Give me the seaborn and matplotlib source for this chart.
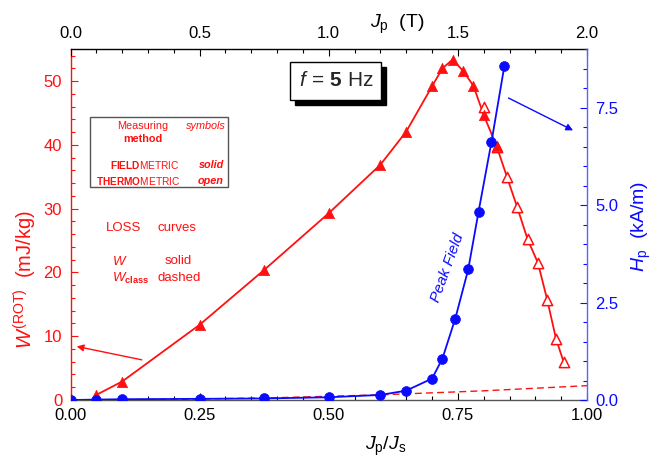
import numpy as np
import pandas as pd
import seaborn as sns
import matplotlib
matplotlib.use("Agg")
import matplotlib.pyplot as plt
from matplotlib.ticker import MultipleLocator, FormatStrFormatter
from matplotlib.patches import Rectangle

# ---------------- data ----------------
# Loss W(ROT), measured by field-metric method (solid symbols)
w_solid_x = [0.05, 0.10, 0.25, 0.375, 0.50, 0.60, 0.65, 0.70, 0.72, 0.74, 0.76, 0.78, 0.80, 0.825]
w_solid_y = [0.8, 2.9, 11.8, 20.4, 29.3, 36.9, 42.1, 49.2, 52.0, 53.4, 51.6, 49.3, 44.7, 39.8]
# Loss W(ROT), measured by thermometric method (open symbols)
w_open_x = [0.80, 0.825, 0.845, 0.865, 0.885, 0.905, 0.923, 0.94, 0.955]
w_open_y = [46.0, 39.6, 35.0, 30.2, 25.2, 21.5, 15.7, 9.6, 5.9]
# Classical loss (dashed)
wclass_x = [0.0, 0.2, 0.4, 0.6, 0.8, 1.0]
wclass_y = [0.0, 0.09, 0.36, 0.81, 1.44, 2.25]
# Peak field Hp (kA/m)
h_x = [0.0, 0.05, 0.10, 0.25, 0.375, 0.50, 0.60, 0.65, 0.70, 0.72, 0.745, 0.77, 0.79, 0.815, 0.84]
h_y = [0.0, 0.01, 0.02, 0.03, 0.04, 0.07, 0.13, 0.24, 0.55, 1.06, 2.09, 3.35, 4.83, 6.62, 8.57]

# top axis: Jp in tesla (Js = 2 T)
top_lim = [0.0, 2.0]

RED = "#ff1010"
BLUE = "#0a0aff"
BLUE_SPINE = "#6060ff"

sns.set_style("ticks")
plt.rcParams["font.family"] = ["Liberation Sans", "DejaVu Sans"]
plt.rcParams["mathtext.fontset"] = "custom"
plt.rcParams["mathtext.rm"] = "Liberation Sans"
plt.rcParams["mathtext.it"] = "Liberation Sans:italic"
plt.rcParams["mathtext.bf"] = "Liberation Sans:bold"

PW, PH = 655, 462
def fx(px):
    return px / PW
def fy(py):
    return 1 - py / PH

fig = plt.figure(figsize=(6.55, 4.62), dpi=100)
ax = fig.add_axes([70.5 / PW, 1 - 400 / PH, 516.5 / PW, 350.7 / PH])
ax3 = ax.twiny()
ax2 = ax.twinx()

# red loss curve (solid line through solid points then the open tail)
curve = pd.DataFrame({
    "x": w_solid_x + w_open_x[2:],
    "y": w_solid_y + w_open_y[2:],
})
sns.lineplot(data=curve, x="x", y="y", ax=ax, color=RED, lw=1.3, sort=False)
sns.lineplot(x=wclass_x, y=wclass_y, ax=ax, color=RED, lw=1.0,
             linestyle=(0, (5, 3)))
sns.scatterplot(x=w_open_x, y=w_open_y, ax=ax, marker="^", s=55,
                facecolor="white", edgecolor=RED, linewidth=1.1, zorder=3)
sns.scatterplot(x=w_solid_x, y=w_solid_y, ax=ax, marker="^", s=55,
                color=RED, edgecolor=RED, linewidth=0.5, zorder=4)

# blue peak field
sns.lineplot(x=h_x, y=h_y, ax=ax2, color=BLUE, lw=1.3, sort=False)
sns.scatterplot(x=h_x, y=h_y, ax=ax2, marker="o", s=50, color=BLUE,
                edgecolor=BLUE, linewidth=0.5, zorder=4)

# ---------------- axes ----------------
ax.set_xlim(0, 1.0)
ax.set_ylim(0, 55)
ax2.set_ylim(0, 9)
ax3.set_xlim(*top_lim)
for a in (ax, ax2, ax3):
    a.set_xlabel("")
    a.set_ylabel("")

tick_kw = dict(direction="in", labelsize=12)
ax.xaxis.set_major_locator(MultipleLocator(0.25))
ax.xaxis.set_minor_locator(MultipleLocator(0.05))
ax.xaxis.set_major_formatter(FormatStrFormatter("%.2f"))
ax.yaxis.set_major_locator(MultipleLocator(10))
ax.yaxis.set_minor_locator(MultipleLocator(2))
ax2.yaxis.set_major_locator(MultipleLocator(2.5))
ax2.yaxis.set_minor_locator(MultipleLocator(0.5))
ax2.yaxis.set_major_formatter(FormatStrFormatter("%.1f"))
ax3.xaxis.set_major_locator(MultipleLocator(0.5))
ax3.xaxis.set_minor_locator(MultipleLocator(0.1))
ax3.xaxis.set_major_formatter(FormatStrFormatter("%.1f"))

ax.tick_params(axis="x", which="major", length=5, width=0.8, color="black",
               labelcolor="black", pad=6, **tick_kw)
ax.tick_params(axis="x", which="minor", length=3, width=0.8, direction="in", color="black")
ax.tick_params(axis="y", which="major", length=5, width=0.8, color=RED,
               labelcolor=RED, pad=6, **tick_kw)
ax.tick_params(axis="y", which="minor", length=3, width=0.8, direction="in", color=RED)
ax2.tick_params(axis="y", which="major", length=5, width=0.8, color=BLUE,
                labelcolor=BLUE, pad=6, **tick_kw)
ax2.tick_params(axis="y", which="minor", length=3, width=0.8, direction="in", color=BLUE)
ax3.tick_params(axis="x", which="major", length=5, width=0.8, color="black",
                labelcolor="black", pad=6, **tick_kw)
ax3.tick_params(axis="x", which="minor", length=3, width=0.8, direction="in", color="black")

for a in (ax, ax2, ax3):
    for s in a.spines.values():
        s.set_linewidth(1.0)
        s.set_visible(False)
ax.spines["left"].set_visible(True)
ax.spines["left"].set_color(RED)
ax.spines["bottom"].set_visible(True)
ax.spines["bottom"].set_color("#555555")
ax3.spines["top"].set_visible(True)
ax3.spines["top"].set_color("black")
ax2.spines["right"].set_visible(True)
ax2.spines["right"].set_color(BLUE_SPINE)

# ---------------- axis titles ----------------
fig.text(fx(25), fy(280), r"$W^{\rm (ROT)}$  (mJ/kg)", color=RED, fontsize=14.5,
         rotation=90, ha="center", va="center")
fig.text(fx(641), fy(226), r"$H_{\rm p}$  (kA/m)", color=BLUE, fontsize=14,
         rotation=90, ha="center", va="center")
fig.text(fx(397), fy(24), r"$J_{\rm p}$  (T)", color="black", fontsize=14,
         ha="center", va="center")
fig.text(fx(386), fy(446), r"$J_{\rm p}/J_{\rm s}$", color="black", fontsize=14,
         ha="center", va="center")

# ---------------- annotations ----------------
# f = 5 Hz box with shadow
fig.patches.append(Rectangle((fx(295), fy(105)), (381 - 290) / PW, (100 - 62) / PH,
                             transform=fig.transFigure, facecolor="black",
                             edgecolor="black", zorder=5))
fig.patches.append(Rectangle((fx(290), fy(100)), (381 - 290) / PW, (100 - 62) / PH,
                             transform=fig.transFigure, facecolor="white",
                             edgecolor="black", lw=1.0, zorder=6))
fig.text(fx(336), fy(81), r"$f\,=\,\mathbf{5}\ \mathrm{Hz}$", fontsize=15,
         ha="center", va="center", zorder=7)

# method legend box
fig.patches.append(Rectangle((fx(90), fy(187)), (228 - 90) / PW, (187 - 117) / PH,
                             transform=fig.transFigure, facecolor="none",
                             edgecolor="#555555", lw=1.0, zorder=5))
fs = 7.8
fs_m = 7.3
fig.text(fx(143), fy(126), "Measuring", color=RED, fontsize=fs, ha="center", va="center")
fig.text(fx(143), fy(139.5), "method", color=RED, fontsize=fs, ha="center", va="center",
         fontweight="bold")
fig.text(fx(226), fy(126), "symbols", color=RED, fontsize=fs, ha="right", va="center",
         fontstyle="italic")
fig.text(fx(180), fy(165), r"$\mathbf{FIELD}\mathrm{METRIC}$", color=RED, fontsize=fs_m,
         ha="right", va="center")
fig.text(fx(180), fy(181), r"$\mathbf{THERMO}\mathrm{METRIC}$", color=RED, fontsize=fs_m,
         ha="right", va="center")
fig.text(fx(224), fy(165), "solid", color=RED, fontsize=fs, ha="right", va="center",
         fontweight="bold", fontstyle="italic")
fig.text(fx(224), fy(181), "open", color=RED, fontsize=fs, ha="right", va="center",
         fontweight="bold", fontstyle="italic")

fs2 = 9.5
fig.text(fx(124), fy(228), "LOSS", color=RED, fontsize=fs2, ha="center", va="center")
fig.text(fx(177), fy(228), "curves", color=RED, fontsize=fs2, ha="center", va="center")
fig.text(fx(112), fy(261.5), r"$W$", color=RED, fontsize=fs2, ha="left", va="center")
fig.text(fx(178), fy(261.5), "solid", color=RED, fontsize=fs2, ha="center", va="center")
fig.text(fx(112), fy(278), r"$W_{\mathbf{class}}$", color=RED, fontsize=fs2, ha="left",
         va="center")
fig.text(fx(179), fy(278), "dashed", color=RED, fontsize=fs2, ha="center", va="center")

fig.text(fx(448), fy(268), "Peak Field", color=BLUE, fontsize=11, fontstyle="italic",
         rotation=70, ha="center", va="center")

# arrows pointing to the relevant axes
ax.annotate("", xy=(0.012, 8.4), xytext=(0.138, 6.3),
            arrowprops=dict(arrowstyle="-|>", color=RED, lw=1.0,
                            mutation_scale=10, shrinkA=0, shrinkB=0))
ax2.annotate("", xy=(0.973, 6.92), xytext=(0.848, 7.75),
             arrowprops=dict(arrowstyle="-|>", color=BLUE, lw=1.0,
                             mutation_scale=10, shrinkA=0, shrinkB=0))

fig.savefig("out.png", dpi=100)
